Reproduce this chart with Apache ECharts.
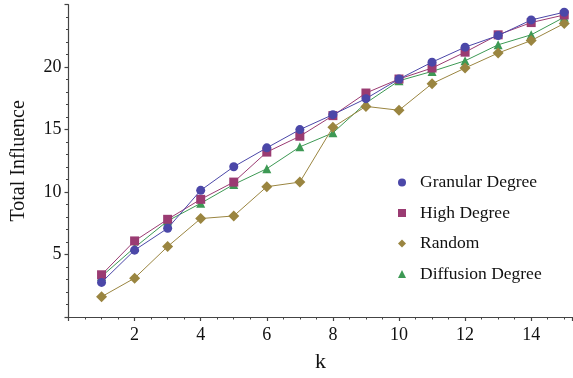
<!DOCTYPE html>
<html>
<head>
<meta charset="utf-8">
<script src="https://cdn.jsdelivr.net/npm/echarts@6/dist/echarts.min.js"></script>
<style>html,body{margin:0;padding:0;background:#fff}#c{width:573px;height:378px}</style>
</head>
<body>
<div id="c"></div>
<script>
var k = [1,2,3,4,5,6,7,8,9,10,11,12,13,14,15];
var granularDegree = [2.77,5.35,7.1,10.14,12.03,13.54,15.0,16.2,17.48,19.05,20.4,21.6,22.53,23.78,24.4];
var highDegree = [3.38,6.09,7.82,9.42,10.8,13.2,14.47,16.12,17.93,19.05,19.93,21.2,22.59,23.57,24.18];
var randomSel = [1.62,3.11,5.64,7.88,8.09,10.43,10.8,15.19,16.86,16.55,18.68,19.93,21.13,22.13,23.5];
var diffusionDegree = [3.25,5.56,7.69,9.1,10.61,11.87,13.62,14.74,17.13,18.91,19.66,20.51,21.79,22.59,24.0];
var seriesNames = ['Granular Degree','High Degree','Random','Diffusion Degree'];

var colors = ['#4b47a8','#9a3b72','#9a8540','#3d9954'];
var symbols = ['circle','rect','diamond','triangle'];
var symbolSizes = [9,9,11,9];
var allData = [granularDegree, highDegree, randomSel, diffusionDegree];

function pairs(ys){ return k.map(function(x,i){ return [x, ys[i]]; }); }

var font = 'Liberation Serif, Times New Roman, serif';
var axisCol = '#444';

var chart = echarts.init(document.getElementById('c'), null, {renderer:'canvas'});
chart.setOption({
  animation:false,
  color: colors,
  grid:{left:68.5, right:0.5, top:4.7, bottom:60, containLabel:false},
  legend:{
    orient:'vertical', left:393, top:168.5,
    itemWidth:8, itemHeight:8, itemGap:12.5,
    textStyle:{fontFamily:font, fontSize:17.5, color:'#111', lineHeight:18, padding:[0,0,0,9]},
    data: seriesNames.map(function(n,i){ return {name:n, icon:symbols[i]}; })
  },
  xAxis:{
    type:'value', min:0, max:15.25, interval:2,
    name:'k', nameLocation:'middle', nameGap:34,
    nameTextStyle:{fontFamily:font, fontSize:22, color:'#111'},
    axisLine:{show:true, onZero:false, lineStyle:{color:axisCol, width:1.2}},
    axisTick:{show:true, inside:false, length:4, lineStyle:{color:axisCol, width:1.2}},
    minorTick:{show:true, splitNumber:4, length:2.5, lineStyle:{color:axisCol, width:1}},
    splitLine:{show:false},
    minorSplitLine:{show:false},
    axisLabel:{fontFamily:font, fontSize:18, color:'#111', margin:9, showMaxLabel:false,
      formatter:function(v){ return v===0 ? '' : String(v); }}
  },
  yAxis:{
    type:'value', min:0, max:25, interval:5,
    name:'Total Influence', nameLocation:'middle', nameGap:40,
    nameTextStyle:{fontFamily:font, fontSize:20, color:'#111'},
    axisLine:{show:true, onZero:false, lineStyle:{color:axisCol, width:1.2}},
    axisTick:{show:true, inside:false, length:4, lineStyle:{color:axisCol, width:1.2}},
    minorTick:{show:true, splitNumber:5, length:2.5, lineStyle:{color:axisCol, width:1}},
    splitLine:{show:false},
    minorSplitLine:{show:false},
    axisLabel:{fontFamily:font, fontSize:18, color:'#111', margin:7,
      formatter:function(v){ return (v===0 || v===25) ? '' : String(v); }}
  },
  series: allData.map(function(d,i){
    return {
      name: seriesNames[i], type:'line', data: pairs(d),
      symbol: symbols[i], symbolSize: symbolSizes[i],
      lineStyle:{width:1, color:colors[i]},
      itemStyle:{color:colors[i]},
      z: 2 + (3 - i)
    };
  })
});
</script>
</body>
</html>
